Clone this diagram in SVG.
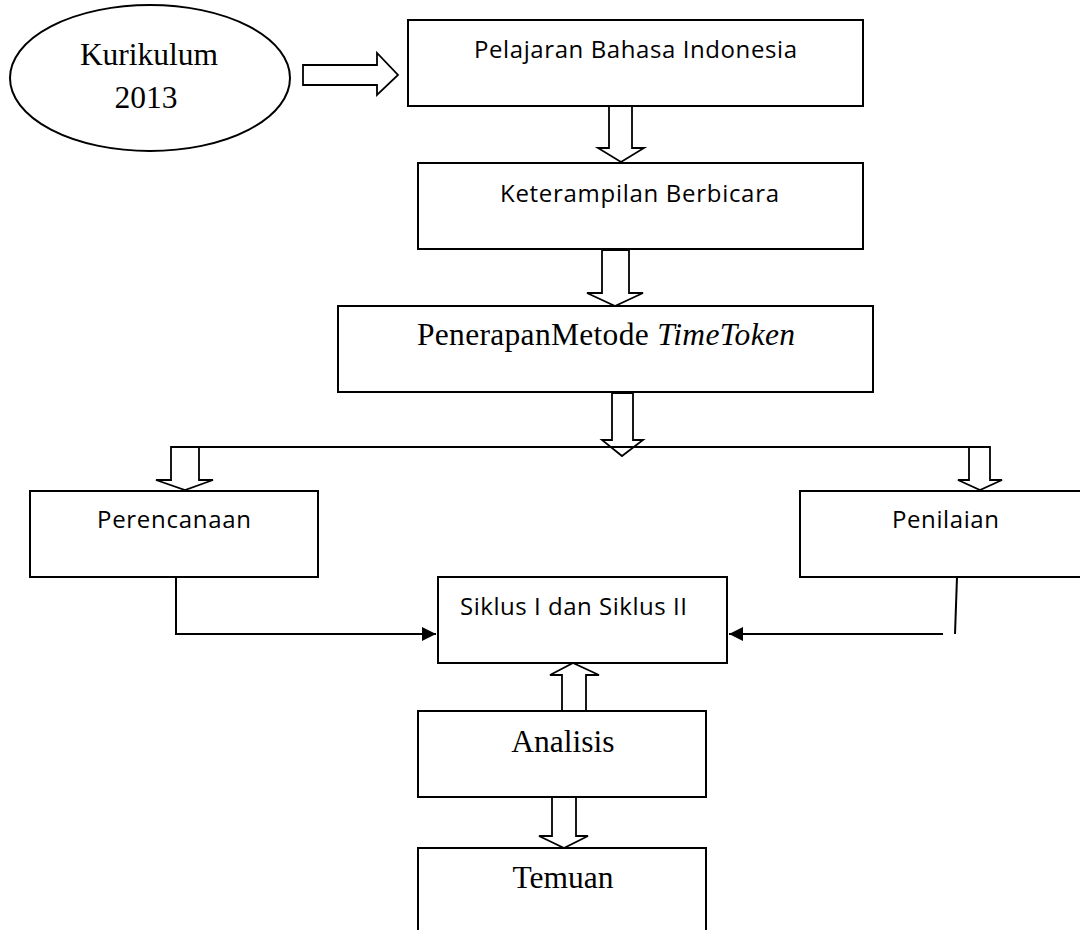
<svg xmlns="http://www.w3.org/2000/svg" width="1080" height="930" viewBox="0 0 1080 930">
<defs>
<style>
.box{fill:#fff;stroke:#000;stroke-width:2}
.blk{fill:#fff;stroke:#000;stroke-width:1.8;stroke-linejoin:miter}
.ln{fill:none;stroke:#000;stroke-width:2}
.tr{font-family:"Liberation Serif","Times New Roman",serif;font-size:31.5px;fill:#000}
.ca{font-family:"Open Sans","Liberation Sans",sans-serif;font-size:24px;fill:#000}
</style>
<marker id="ah" markerUnits="userSpaceOnUse" markerWidth="16" markerHeight="16" viewBox="0 0 16 16" refX="15" refY="8" orient="auto">
<path d="M1,1 L15,8 L1,15 Z" fill="#000"/>
</marker>
</defs>
<rect width="1080" height="930" fill="#fff"/>

<g id="connectors">
<polygon class="blk" points="303,65 377,65 377,53 398,75 377,95 377,85 303,85"/>
<polygon class="blk" points="609,106 632,106 632,148 644,148 621,162 598,148 609,148"/>
<polygon class="blk" points="602,250 629,250 629,293 643,293 615,306 587,293 602,293"/>
<polygon class="blk" points="612,393 633,393 633,440 643,440 622,456 602,440 612,440"/>
<polygon class="blk" points="171,447 199,447 199,480 213,480 185,490 156,480 171,480"/>
<polygon class="blk" points="969,447 990,447 990,480 1002,480 980,490 958,480 969,480"/>
<line class="ln" x1="171" y1="447" x2="990" y2="447"/>
<polyline class="ln" points="176,577 176,634 436,634" marker-end="url(#ah)"/>
<line class="ln" x1="957" y1="577" x2="955" y2="634"/>
<line class="ln" x1="943" y1="634" x2="729" y2="634" marker-end="url(#ah)"/>
<polygon class="blk" points="562,711 586,711 586,675 599,675 573,663 550,675 562,675"/>
<polygon class="blk" points="552,797 576,797 576,836 588,836 564,848 539,836 552,836"/>
</g>

<g id="kurikulum">
<ellipse class="box" cx="150" cy="78" rx="140" ry="73"/>
<text class="tr" x="149" y="65" text-anchor="middle">Kurikulum</text>
<text class="tr" x="146" y="108" text-anchor="middle">2013</text>
</g>

<g id="pelajaran">
<rect class="box" x="408" y="20" width="455" height="86"/>
<text class="ca" x="474" y="58" textLength="323" lengthAdjust="spacing">Pelajaran Bahasa Indonesia</text>
</g>

<g id="keterampilan">
<rect class="box" x="418" y="163" width="445" height="86"/>
<text class="ca" x="500" y="202" textLength="279" lengthAdjust="spacing">Keterampilan Berbicara</text>
</g>

<g id="penerapan">
<rect class="box" x="338" y="306" width="535" height="86"/>
<text class="tr" x="417" y="345" textLength="378" lengthAdjust="spacing">PenerapanMetode <tspan font-style="italic">TimeToken</tspan></text>
</g>

<g id="perencanaan">
<rect class="box" x="30" y="491" width="288" height="86"/>
<text class="ca" x="97" y="528" textLength="154" lengthAdjust="spacing">Perencanaan</text>
</g>

<g id="penilaian">
<rect class="box" x="800" y="491" width="300" height="86"/>
<text class="ca" x="892" y="528" textLength="107" lengthAdjust="spacing">Penilaian</text>
</g>

<g id="siklus">
<rect class="box" x="438" y="577" width="289" height="86"/>
<text class="ca" x="460" y="615" textLength="227" lengthAdjust="spacing">Siklus I dan Siklus II</text>
</g>

<g id="analisis">
<rect class="box" x="418" y="711" width="288" height="86"/>
<text class="tr" x="563" y="752" text-anchor="middle">Analisis</text>
</g>

<g id="temuan">
<rect class="box" x="418" y="848" width="288" height="120"/>
<text class="tr" x="563" y="888" text-anchor="middle">Temuan</text>
</g>
</svg>
